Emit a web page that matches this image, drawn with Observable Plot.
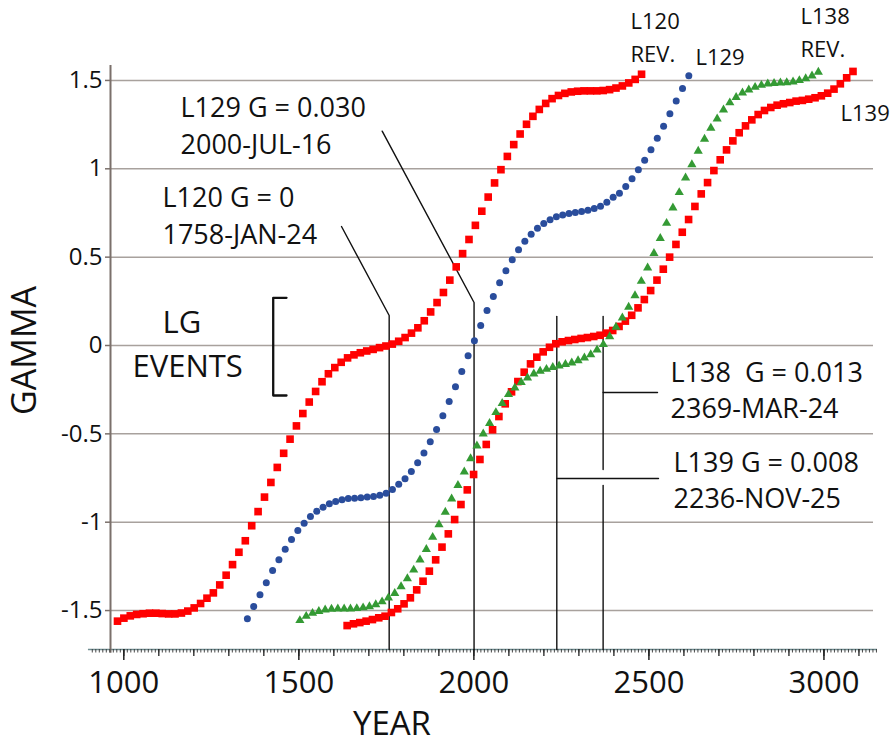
<!DOCTYPE html>
<html>
<head>
<meta charset="utf-8">
<script src="https://cdn.jsdelivr.net/npm/d3@7"></script>
<script src="https://cdn.jsdelivr.net/npm/@observablehq/plot@0.6"></script>
<style>
  html, body { margin: 0; padding: 0; background: #fff; }
  #chart { width: 895px; height: 744px; }
</style>
</head>
<body>
<div id="chart"></div>
<script>
// ---------- data ----------
const L120_start = 982, L120_end = 2479;
const L120_gamma = [-1.56,-1.543,-1.53,-1.522,-1.518,-1.515,-1.515,-1.517,-1.519,-1.519,-1.514,-1.503,-1.485,-1.46,-1.43,-1.40,-1.355,-1.30,-1.24,-1.17,-1.105,-1.02,-0.94,-0.858,-0.775,-0.69,-0.61,-0.53,-0.455,-0.385,-0.32,-0.26,-0.205,-0.16,-0.125,-0.095,-0.07,-0.053,-0.041,-0.031,-0.022,-0.012,-0.003,0.008,0.024,0.045,0.07,0.10,0.14,0.19,0.243,0.30,0.37,0.445,0.52,0.60,0.68,0.76,0.84,0.92,0.995,1.07,1.137,1.197,1.252,1.297,1.336,1.37,1.397,1.415,1.427,1.435,1.439,1.441,1.441,1.441,1.443,1.448,1.457,1.469,1.486,1.506,1.535];

const L129_start = 1353, L129_end = 2614;
const L129_gamma = [-1.547,-1.477,-1.41,-1.343,-1.273,-1.213,-1.153,-1.098,-1.047,-1.006,-0.968,-0.938,-0.915,-0.896,-0.883,-0.873,-0.866,-0.864,-0.862,-0.858,-0.855,-0.847,-0.836,-0.815,-0.785,-0.754,-0.713,-0.664,-0.609,-0.545,-0.475,-0.398,-0.317,-0.234,-0.147,-0.058,0.027,0.113,0.198,0.277,0.355,0.423,0.485,0.542,0.590,0.630,0.664,0.690,0.711,0.728,0.738,0.747,0.753,0.758,0.766,0.775,0.788,0.811,0.839,0.862,0.900,0.943,0.994,1.049,1.108,1.173,1.241,1.311,1.383,1.454,1.526];

const L138_start = 1503, L138_end = 2984;
const L138_gamma = [-1.556,-1.532,-1.515,-1.504,-1.496,-1.492,-1.49,-1.49,-1.49,-1.488,-1.484,-1.477,-1.466,-1.45,-1.428,-1.402,-1.364,-1.319,-1.27,-1.213,-1.153,-1.085,-1.013,-0.943,-0.868,-0.791,-0.715,-0.64,-0.568,-0.50,-0.44,-0.379,-0.327,-0.277,-0.239,-0.208,-0.183,-0.16,-0.145,-0.134,-0.123,-0.115,-0.106,-0.098,-0.085,-0.07,-0.051,-0.024,0.006,0.051,0.104,0.157,0.217,0.283,0.364,0.44,0.522,0.607,0.692,0.779,0.866,0.949,1.024,1.10,1.168,1.23,1.283,1.334,1.374,1.405,1.43,1.447,1.462,1.473,1.481,1.484,1.487,1.488,1.492,1.50,1.511,1.526,1.547];

const L139_start = 1638, L139_end = 3083;
const L139_gamma = [-1.585,-1.575,-1.568,-1.56,-1.551,-1.541,-1.532,-1.511,-1.49,-1.462,-1.428,-1.383,-1.334,-1.277,-1.213,-1.141,-1.066,-0.985,-0.90,-0.817,-0.73,-0.645,-0.56,-0.477,-0.402,-0.33,-0.262,-0.204,-0.151,-0.104,-0.066,-0.036,-0.01,0.01,0.021,0.028,0.034,0.04,0.045,0.051,0.058,0.07,0.085,0.108,0.138,0.171,0.213,0.26,0.311,0.37,0.432,0.50,0.572,0.641,0.713,0.787,0.858,0.922,0.99,1.051,1.107,1.158,1.204,1.243,1.277,1.307,1.33,1.347,1.36,1.368,1.375,1.383,1.387,1.394,1.402,1.413,1.428,1.451,1.481,1.515,1.551];

// LG events (year of G crossing)
const eventNames = ["L120", "L129", "L139", "L138"];
const eventYears = [1758.07, 2000.54, 2236.9, 2369.22];

// tick values / labels
const xMajorTicks = [1000, 1500, 2000, 2500, 3000];
const yTicks = [-1.5, -1, -0.5, 0, 0.5, 1, 1.5];
const yTickLabels = ["-1.5", "-1", "-0.5", "0", "0.5", "1", "1.5"];

// ---------- build tables ----------
function series(start, end, vals) {
  const step = (end - start) / (vals.length - 1);
  return vals.map((g, i) => ({year: start + i * step, gamma: g}));
}
const s120 = series(L120_start, L120_end, L120_gamma);
const s129 = series(L129_start, L129_end, L129_gamma);
const s138 = series(L138_start, L138_end, L138_gamma);
const s139 = series(L139_start, L139_end, L139_gamma);

const X0 = 962, X1 = 3153;          // x domain
const Y0 = -1.7204, Y1 = 1.5846;    // y domain
const minorTicks = d3.range(910, 3151, 10);
const midTicks = d3.range(1000, 3101, 100);

const FONT = "'Open Sans', 'Noto Sans', sans-serif";
const ev = Object.fromEntries(eventNames.map((n, i) => [n, eventYears[i]]));

// annotation leader lines (in data coordinates)
const leaders = [
  [[1621.9, 0.6735], [ev.L120, 0.1698], [ev.L120, Y0]],
  [[1738.1, 1.2128], [ev.L129, 0.2433], [ev.L129, Y0]],
  [[ev.L139, 0.1641], [ev.L139, Y0]],
  [[ev.L139, -0.7527], [2527.4, -0.7527]],
  [[ev.L138, 0.1641], [ev.L138, -0.7018]],
  [[ev.L138, -0.7923], [ev.L138, Y0]],
  [[ev.L138, -0.266], [2524.6, -0.266]]
];
const bracket = [[1464.8, 0.270], [1426.8, 0.270], [1426.8, -0.283], [1464.8, -0.283]];

const bigNotes = [
  {x: 1162, y: 1.085, t: "L129 G = 0.030\n2000-JUL-16"},
  {x: 1110.5, y: 0.576, t: "L120 G = 0\n1758-JAN-24"},
  {x: 2561.7, y: -0.413, t: "L138\u00a0\u00a0G = 0.013\n2369-MAR-24"},
  {x: 2570.3, y: -0.922, t: "L139 G = 0.008\n2236-NOV-25"}
];
const smallNotes = [
  {x: 2447.4, y: 1.602, t: "L120\nREV."},
  {x: 2633, y: 1.585, t: "L129"},
  {x: 2933, y: 1.630, t: "L138\nREV."},
  {x: 3047.3, y: 1.273, t: "L139"}
];
const lgNotes = [
  {x: 1110.5, y: 0.068, t: "LG"},
  {x: 1024.8, y: -0.181, t: "EVENTS"}
];

const chart = Plot.plot({
  width: 895,
  height: 744,
  marginLeft: 110,
  marginRight: 18,
  marginTop: 65,
  marginBottom: 95,
  x: {domain: [X0, X1]},
  y: {domain: [Y0, Y1]},
  style: {fontFamily: FONT, background: "#fff", color: "#111", overflow: "visible"},
  marks: [
    Plot.gridY(yTicks, {stroke: "#a8a19d", strokeOpacity: 1, strokeWidth: 1.5, insetRight: 4}),
    // x axis line
    Plot.ruleY([Y0], {x1: 899, x2: X1, stroke: "#6f8d91", strokeWidth: 1.6}),
    // y axis line
    Plot.ruleX([X0], {y1: -1.742, y2: Y1, stroke: "#7b706b", strokeWidth: 2}),
    Plot.axisX({ticks: minorTicks, tickSize: 3.5, tickFormat: () => "", stroke: "#333", strokeWidth: 0.9, label: null}),
    Plot.axisX({ticks: midTicks, tickSize: 7, tickFormat: () => "", stroke: "#222", strokeWidth: 1.3, label: null}),
    Plot.axisX({ticks: xMajorTicks, tickSize: 11, tickPadding: 10, tickFormat: d => String(d), stroke: "#222", strokeWidth: 1.5, fontSize: 31, label: null}),
    Plot.axisY({ticks: yTicks, tickSize: 5, tickPadding: 3, tickFormat: d => yTickLabels[yTicks.indexOf(d)], stroke: "#7b706b", strokeWidth: 1.5, fontSize: 24, label: null}),
    // leaders & bracket
    ...leaders.map(pts => Plot.line(pts, {stroke: "#111", strokeWidth: 1.4})),
    Plot.line(bracket, {stroke: "#111", strokeWidth: 2.3}),
    // series
    Plot.dot(s120, {x: "year", y: "gamma", symbol: "square", r: 4.3, fill: "#ff0000"}),
    Plot.dot(s139, {x: "year", y: "gamma", symbol: "square", r: 4.3, fill: "#ff0000"}),
    Plot.dot(s129, {x: "year", y: "gamma", symbol: "circle", r: 3.5, fill: "#2a4d9c"}),
    Plot.dot(s138, {x: "year", y: "gamma", symbol: "triangle", r: 3.4, fill: "#349a34"}),
    // texts
    Plot.text(bigNotes, {x: "x", y: "y", text: "t", textAnchor: "start", lineAnchor: "bottom", fontSize: 27, lineHeight: 1.35, fill: "#111"}),
    Plot.text(smallNotes, {x: "x", y: "y", text: "t", textAnchor: "start", lineAnchor: "bottom", fontSize: 22, lineHeight: 1.5, fill: "#111"}),
    Plot.text(lgNotes, {x: "x", y: "y", text: "t", textAnchor: "start", lineAnchor: "bottom", fontSize: 31, fill: "#111"}),
    Plot.text(["GAMMA"], {x: 719, y: -0.028, text: d => d, rotate: -90, textAnchor: "middle", lineAnchor: "middle", fontSize: 34, fill: "#111"}),
    Plot.text(["YEAR"], {x: 1766, y: -2.205, text: d => d, textAnchor: "middle", lineAnchor: "bottom", fontSize: 33, fill: "#111"})
  ]
});
document.getElementById("chart").appendChild(chart);
</script>
</body>
</html>
